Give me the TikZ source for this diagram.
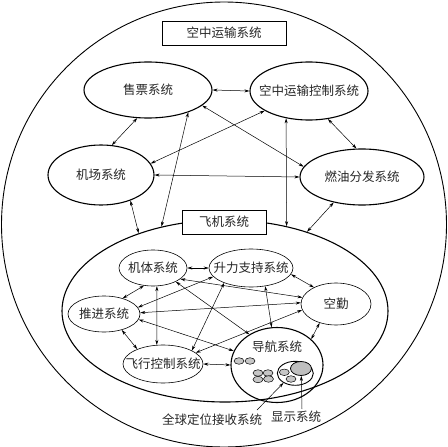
\documentclass[tikz,border=0pt]{standalone}
\usepackage{fontspec}
\newfontfamily\cjk{Noto Sans CJK SC}
\usetikzlibrary{shapes.geometric,arrows.meta}
\begin{document}
\begin{tikzpicture}[x=1pt,y=-1pt,
  ell/.style={draw, ellipse, inner sep=0pt, line width=0.6pt},
  bigell/.style={draw, ellipse, inner sep=0pt, line width=1.1pt},
  lbl/.style={font=\cjk\fontsize{12.5}{14}\selectfont, text=black!85, inner sep=0pt},
  box/.style={draw, fill=white, line width=0.6pt, inner sep=0pt, minimum height=24pt},
  dar/.style={{Stealth[length=5pt,width=3pt]}-{Stealth[length=5pt,width=3pt]}, line width=0.5pt},
  sar/.style={-{Stealth[length=5pt,width=3pt]}, line width=0.5pt},
  grey/.style={draw, ellipse, fill=gray!45, inner sep=0pt, line width=0.5pt, minimum width=10pt, minimum height=6.5pt}
]
\useasboundingbox (0,0) rectangle (448,447);
\draw[line width=0.9pt] (224,224.5) circle[radius=222.5pt];

% top system
\node[box, lbl, minimum width=124pt] (t1) at (224,33) {空中运输系统};
\node[bigell, minimum width=128pt, minimum height=56pt] (sp) at (148,90) {};
\node[lbl] (spt) at (sp) {售票系统};
\node[bigell, minimum width=118pt, minimum height=58pt] (kz) at (309,91) {};
\node[lbl] (kzt) at (kz) {空中运输控制系统};
\node[bigell, minimum width=106pt, minimum height=60pt] (jc) at (101,175) {};
\node[lbl] (jct) at (jc) {机场系统};
\node[bigell, minimum width=124pt, minimum height=56pt] (ry) at (362,177) {};
\node[lbl] (ryt) at (ry) {燃油分发系统};

% airplane system
\node[bigell, minimum width=326pt, minimum height=182pt] (fj) at (225,311) {};
\node[box, lbl, minimum width=84pt] (t2) at (224,222) {飞机系统};

\node[ell, minimum width=68pt, minimum height=36pt] (jt) at (153,268) {};
\node[lbl] (jtt) at (jt) {机体系统};
\node[ell, minimum width=84pt, minimum height=38pt] (sl) at (251,268) {};
\node[lbl] (slt) at (sl) {升力支持系统};
\node[ell, minimum width=70pt, minimum height=42pt] (kq) at (336,304) {};
\node[lbl] (kqt) at (kq) {空勤};
\node[ell, minimum width=72pt, minimum height=36pt] (tj) at (104,314) {};
\node[lbl] (tjt) at (tj) {推进系统};
\node[ell, minimum width=80pt, minimum height=38pt] (fk) at (163,364) {};
\node[lbl] (fkt) at (fk) {飞行控制系统};
\node[bigell, minimum width=92pt, minimum height=75pt] (dh) at (277,365) {};
\node[lbl] (dht) at (277,347) {导航系统};

% navigation internals
\node[grey] (g1) at (239,361) {};
\node[grey] (g2) at (250,361) {};
\node[grey] (g3) at (258,373) {};
\node[grey] (g4) at (268,373) {};
\node[grey] (g5) at (258,379.5) {};
\node[grey] (g6) at (268.5,379) {};
\node[draw, ellipse, inner sep=0pt, line width=0.9pt, minimum width=36pt, minimum height=24pt] (sub) at (295.3,373.3) {};
\node[grey] (g7) at (284.3,372.3) {};
\node[grey] (g8) at (291,379) {};
\node[grey, fill=gray!50, line width=0.8pt, minimum width=21pt, minimum height=14pt] (bg) at (301,368.5) {};

\node[lbl] (gps) at (212,420) {全球定位接收系统};
\node[lbl] (xs) at (296,417) {显示系统};
\coordinate (gpsa) at (257,410);
\coordinate (xsa) at (302,409);
\draw[sar] (gpsa) -- (sub.-141);
\draw[sar] (xsa) -- (bg.-88);

% top connectors
\draw[dar] (sp.0) -- (kz.180);
\draw[dar] (sp.-111) -- (jc.70);
\draw[dar] (sp.-16.6) -- (ry.170);
\draw[dar] (kz.-156.5) -- (jc.13);
\draw[dar] (kz.-56.8) -- (ry.101.6);
\draw[dar] (jc.0) -- (ry.180);
\draw[dar] (sp.-29.7) -- (fj.127.5);
\draw[dar] (kz.-130.8) -- (fj.54.2);
\draw[dar] (jc.-41) -- (fj.138);
\draw[dar] (ry.-138) -- (fj.44.6);

% inner connectors
\draw[dar] (jt.0) -- (sl.180);
\draw[dar] (sl.-9.5) -- (kq.143);
\draw[dar] (jt.-117.8) -- (tj.40);
\draw[dar] (jt.-78) -- (fk.108);
\draw[dar] (jt.-22) -- (kq.169);
\draw[dar] (jt.-31) -- (dh.132);
\draw[dar] (sl.-167) -- (tj.11);
\draw[dar] (sl.-151) -- (fk.25);
\draw[dar] (sl.-52) -- (dh.98.5);
\draw[dar] (kq.178) -- (tj.2);
\draw[dar] (kq.-170.5) -- (fk.19.4);
\draw[dar] (kq.-131) -- (dh.37);
\draw[dar] (tj.-9.7) -- (dh.162);
\draw[dar] (tj.-42) -- (fk.150.5);
\draw[dar] (fk.0) -- (dh.180);
\end{tikzpicture}
\end{document}
